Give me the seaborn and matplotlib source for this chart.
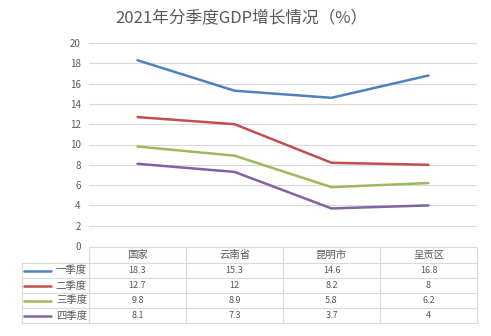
import matplotlib
matplotlib.use("Agg")
import matplotlib.pyplot as plt
import seaborn as sns
import pandas as pd

categories = ["国家", "云南省", "昆明市", "呈贡区"]
series_names = ["一季度", "二季度", "三季度", "四季度"]
q1 = [18.3, 15.3, 14.6, 16.8]
q2 = [12.7, 12, 8.2, 8]
q3 = [9.8, 8.9, 5.8, 6.2]
q4 = [8.1, 7.3, 3.7, 4]
value_labels = [["18.3", "15.3", "14.6", "16.8"],
                ["12.7", "12", "8.2", "8"],
                ["9.8", "8.9", "5.8", "6.2"],
                ["8.1", "7.3", "3.7", "4"]]
y_ticks = [0, 2, 4, 6, 8, 10, 12, 14, 16, 18, 20]
title = "2021年分季度GDP增长情况（%）"
colors = ["#4f81bd", "#c0504d", "#9bbb59", "#8064a2"]

sns.set_theme(style="white")
plt.rcParams['font.family'] = ['Noto Sans CJK SC', 'DejaVu Sans']

rows = []
for name, vals in zip(series_names, [q1, q2, q3, q4]):
    for c, v in zip(categories, vals):
        rows.append({"地区": c, "季度": name, "值": v})
df = pd.DataFrame(rows)

W, H = 491, 336
fig = plt.figure(figsize=(W / 100, H / 100), dpi=100)
L, R, T, B = 89, 477, 43, 246
ax = fig.add_axes([L / W, 1 - B / H, (R - L) / W, (B - T) / H])
sns.lineplot(data=df, x="地区", y="值", hue="季度", palette=colors,
             linewidth=1.8, ax=ax, legend=False, sort=False)
ax.set_xlim(-0.5, len(categories) - 0.5)
ax.set_ylim(0, 20)
ax.set_yticks(y_ticks)
ax.set_yticklabels([str(t) for t in y_ticks], fontsize=7, color="#595959")
ax.tick_params(axis="y", length=0, pad=6)
ax.set_xticks([])
ax.set_xlabel("")
ax.set_ylabel("")
for s in ax.spines.values():
    s.set_visible(False)
ax.yaxis.grid(True, color="#d9d9d9", linewidth=0.8)
ax.set_axisbelow(True)

fig.text(241 / W, 1 - 18 / H, title, ha="center", va="center", fontsize=12, color="#595959")

# table overlay in pixel coordinates
tab = fig.add_axes([0, 0, 1, 1])
tab.set_xlim(0, W)
tab.set_ylim(H, 0)
tab.axis("off")
grid_c = "#d9d9d9"
ncol = len(categories)
colw = (R - L) / ncol
row_h = 15
hdr_top = B + 1
hdr_bot = hdr_top + 16
leg_left = 22
row_tops = [hdr_bot + i * row_h for i in range(len(series_names) + 1)]
tab.plot([L, R], [hdr_top, hdr_top], color=grid_c, lw=0.8)
for y in row_tops:
    tab.plot([leg_left, R], [y, y], color=grid_c, lw=0.8)
for i in range(ncol + 1):
    x = L + i * colw
    tab.plot([x, x], [hdr_top, row_tops[-1]], color=grid_c, lw=0.8)
tab.plot([leg_left, leg_left], [hdr_bot, row_tops[-1]], color=grid_c, lw=0.8)
for i, c in enumerate(categories):
    tab.text(L + (i + 0.5) * colw, (hdr_top + hdr_bot) / 2, c, ha="center", va="center",
             fontsize=7.5, color="#595959")
for r, name in enumerate(series_names):
    yc = (row_tops[r] + row_tops[r + 1]) / 2
    tab.plot([24, 51], [yc, yc], color=colors[r], lw=1.8)
    tab.text(L - 2, yc, name, ha="right", va="center", fontsize=7.5, color="#595959")
    for i in range(ncol):
        tab.text(L + (i + 0.5) * colw, yc, value_labels[r][i], ha="center", va="center",
                 fontsize=6.5, color="#595959")

fig.savefig("out.png", dpi=100)
